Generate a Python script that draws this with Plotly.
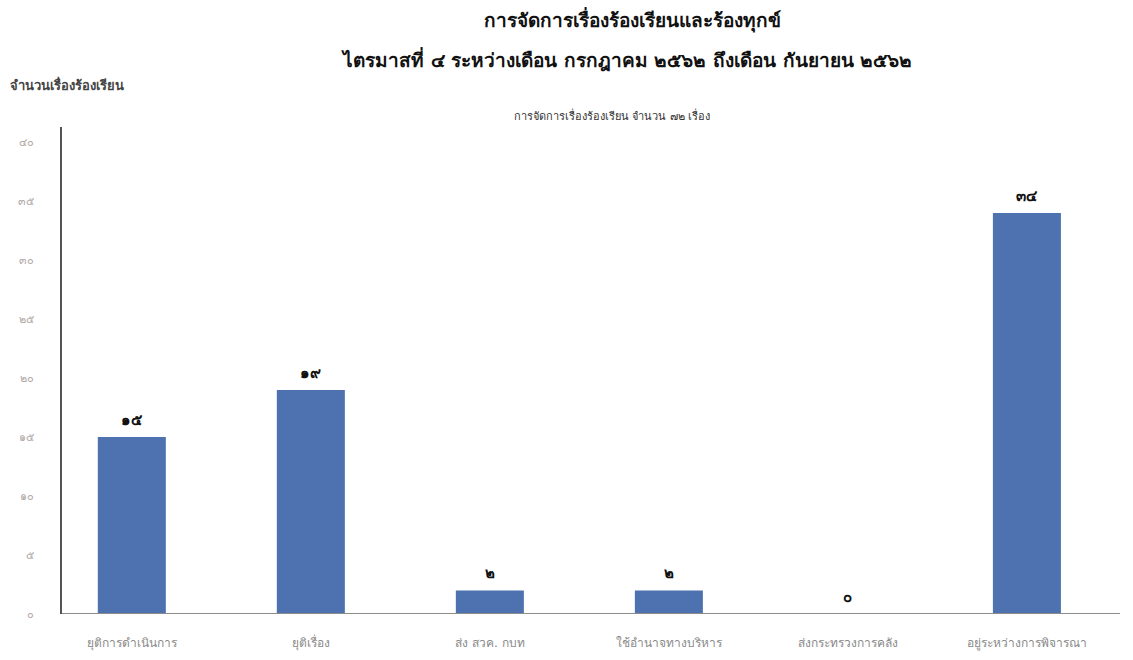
import plotly.graph_objects as go

# Complaint handling, Q4 (Jul–Sep 2562)
categories = [
    "ยุติการดำเนินการ",
    "ยุติเรื่อง",
    "ส่ง สวค. กบท",
    "ใช้อำนาจทางบริหาร",
    "ส่งกระทรวงการคลัง",
    "อยู่ระหว่างการพิจารณา",
]
counts = [15, 19, 2, 2, 0, 34]
count_labels = ["๑๕", "๑๙", "๒", "๒", "๐", "๓๔"]

y_tick_vals = [0, 5, 10, 15, 20, 25, 30, 35, 40]
y_tick_text = ["๐", "๕", "๑๐", "๑๕", "๒๐", "๒๕", "๓๐", "๓๕", "๔๐"]

title_line1 = "การจัดการเรื่องร้องเรียนและร้องทุกข์"
title_line2 = "ไตรมาสที่ ๔ ระหว่างเดือน กรกฎาคม ๒๕๖๒ ถึงเดือน กันยายน ๒๕๖๒"
y_title = "จำนวนเรื่องร้องเรียน"
subtitle = "การจัดการเรื่องร้องเรียน จำนวน ๗๒ เรื่อง"

W, H = 1133, 660
M_L, M_R, M_T, M_B = 62, 13, 127, 46
plot_w = W - M_L - M_R
plot_h = H - M_T - M_B


def px_to_paper(px, py):
    """Convert page pixel position to paper coordinates."""
    return (px - M_L) / plot_w, (H - M_B - py) / plot_h


x_idx = list(range(len(categories)))

fig = go.Figure(
    go.Bar(
        x=x_idx,
        y=counts,
        width=0.38,
        marker=dict(color="#4e72b0", line=dict(width=0)),
        hoverinfo="x+y",
    )
)

annotations = []
# Value labels above each bar
for xi, v, lab in zip(x_idx, counts, count_labels):
    annotations.append(dict(
        text="<b>" + lab + "</b>", x=xi, y=v, xref="x", yref="y",
        showarrow=False, yshift=17, xanchor="center", yanchor="middle",
        font=dict(size=15, color="#111111"),
    ))

# Header texts positioned in page pixels
for text, px, py, size, color, anchor in [
    ("<b>" + title_line1 + "</b>", 632, 20, 19, "#111111", "center"),
    ("<b>" + title_line2 + "</b>", 626, 60, 19, "#111111", "center"),
    ("<b>" + y_title + "</b>", 8, 85, 13, "#444444", "left"),
    (subtitle, 612, 115, 11, "#333333", "center"),
]:
    ax, ay = px_to_paper(px, py)
    annotations.append(dict(
        text=text, x=ax, y=ay, xref="paper", yref="paper", showarrow=False,
        xanchor=anchor, yanchor="middle", font=dict(size=size, color=color),
    ))

fig.update_layout(
    width=W,
    height=H,
    paper_bgcolor="white",
    plot_bgcolor="white",
    showlegend=False,
    margin=dict(l=M_L, r=M_R, t=M_T, b=M_B),
    font=dict(family="DejaVu Sans"),
    annotations=annotations,
)

fig.update_xaxes(
    tickmode="array",
    tickvals=x_idx,
    ticktext=categories,
    range=[-0.39, 5.52],
    showgrid=False,
    zeroline=False,
    showline=False,
    ticks="",
    tickfont=dict(size=12, color="#8a8a8a"),
    ticklabelstandoff=20,
    automargin=False,
)
fig.update_yaxes(
    range=[0, 41.3],
    tickmode="array",
    tickvals=y_tick_vals,
    ticktext=y_tick_text,
    showgrid=False,
    zeroline=False,
    showline=True,
    linecolor="#555555",
    linewidth=2,
    ticks="",
    tickfont=dict(size=11, color="#b0a8a8"),
    ticklabelstandoff=24,
    automargin=False,
)

# Baseline along the category axis
fig.add_shape(type="line", xref="paper", yref="y", x0=0, x1=1, y0=0, y1=0,
              line=dict(color="#8c8c8c", width=2))

fig.write_html("out.html")
